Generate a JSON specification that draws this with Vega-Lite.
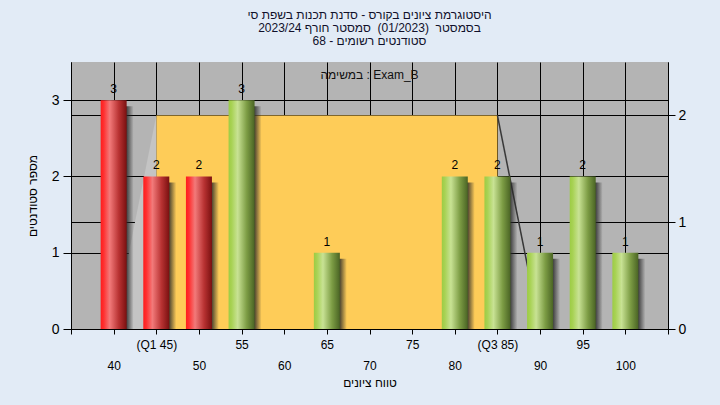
{
  "$schema": "https://vega.github.io/schema/vega-lite/v6.json",
  "width": 597,
  "height": 267,
  "autosize": {"type": "none"},
  "padding": {"left": 71, "top": 62, "right": 52, "bottom": 76},
  "background": "#e2ebf6",
  "config": {
    "font": "Liberation Sans",
    "view": {"fill": "#b4b4b4", "stroke": null},
    "axis": {"gridColor": "#000000", "gridOpacity": 1, "gridWidth": 1, "domainColor": "#000000", "tickColor": "#000000", "labelColor": "#000000", "titleColor": "#000000", "titleFontWeight": "normal", "titleFont": "Liberation Sans", "labelFont": "Liberation Sans"},
    "axisX": {
      "values": [35, 40, 45, 50, 55, 60, 65, 70, 75, 80, 85, 90, 95, 100, 105],
      "grid": true,
      "tickSize": 5,
      "labelFontSize": 12,
      "labelPadding": 5,
      "labelLineHeight": 21,
      "labelOverlap": false,
      "labelFlush": false,
      "labelExpr": "datum.value == 45 ? '(Q1 45)' : datum.value == 85 ? '(Q3 85)' : (datum.value == 35 || datum.value == 105) ? '' : (datum.value % 10 == 0 ? ['', datum.label] : datum.label)",
      "titleFontSize": 12,
      "titlePadding": 6
    }
  },
  "title": {
    "text": ["היסטוגרמת ציונים בקורס - סדנת תכנות בשפת סי", "בסמסטר \u00a0(01/2023) \u00a0סמסטר חורף 2023/24", "סטודנטים רשומים - 68"],
    "fontSize": 12,
    "fontWeight": "normal",
    "color": "#10102a",
    "anchor": "middle",
    "offset": 14,
    "lineHeight": 13
  },
  "datasets": {
    "bars": [
      {"x": 40, "count": 3, "status": "fail"},
      {"x": 45, "count": 2, "status": "fail"},
      {"x": 50, "count": 2, "status": "fail"},
      {"x": 55, "count": 3, "status": "pass"},
      {"x": 65, "count": 1, "status": "pass"},
      {"x": 80, "count": 2, "status": "pass"},
      {"x": 85, "count": 2, "status": "pass"},
      {"x": 90, "count": 1, "status": "pass"},
      {"x": 95, "count": 2, "status": "pass"},
      {"x": 100, "count": 1, "status": "pass"}
    ],
    "box": [{"x": 45, "x2": 85, "y": 2, "y2": 0}],
    "lowWhisker": [{"x": 40, "y": 0}, {"x": 45, "y": 2}],
    "highWhisker": [{"x": 85, "y": 2, "x2": 90, "y2": 0}],
    "exam": [{"label": "במשימה : Exam_B"}]
  },
  "layer": [
    {
      "encoding": {
        "x": {
          "field": "x",
          "type": "quantitative",
          "scale": {"domain": [35, 105], "nice": false, "zero": false, "padding": 0},
          "axis": {"title": "טווח ציונים"}
        },
        "y": {
          "field": "y",
          "type": "quantitative",
          "scale": {"domain": [0, 2.5], "nice": false},
          "axis": {"orient": "right", "values": [0, 1, 2], "grid": true, "tickSize": 7, "labelFontSize": 14, "labelPadding": 3, "title": null}
        }
      },
      "layer": [
        {
          "data": {"name": "box"},
          "mark": {"type": "rect", "color": "#fecc58"},
          "encoding": {"x2": {"field": "x2"}, "y2": {"field": "y2"}}
        },
        {
          "data": {"name": "lowWhisker"},
          "mark": {"type": "area", "color": "#c4c4c4", "opacity": 1},
          "encoding": {}
        },
        {
          "data": {"name": "highWhisker"},
          "mark": {"type": "rule", "color": "#383838", "strokeWidth": 1.5},
          "encoding": {"x2": {"field": "x2"}, "y2": {"field": "y2"}}
        }
      ]
    },
    {
      "data": {"name": "bars"},
      "encoding": {
        "x": {"field": "x", "type": "quantitative", "scale": {"domain": [35, 105], "nice": false, "zero": false, "padding": 0}, "axis": {"title": "טווח ציונים"}},
        "y": {
          "field": "count",
          "type": "quantitative",
          "scale": {"domain": [0, 3.5], "nice": false},
          "axis": {"orient": "left", "values": [0, 1, 2, 3], "grid": true, "tickSize": 8, "labelFontSize": 14, "labelPadding": 4, "title": "מספר סטודנטים", "titleFontSize": 12, "titlePadding": 12}
        }
      },
      "layer": [
        {
          "mark": {
            "type": "bar", "width": 26, "xOffset": 7, "yOffset": 6, "clip": true,
            "color": {"gradient": "linear", "x1": 0, "y1": 0, "x2": 1, "y2": 0, "stops": [
              {"offset": 0, "color": "rgba(40,40,40,0.9)"},
              {"offset": 0.72, "color": "rgba(40,40,40,0.85)"},
              {"offset": 1, "color": "rgba(40,40,40,0)"}
            ]}
          }
        },
        {
          "transform": [{"filter": "datum.status == 'fail'"}],
          "mark": {
            "type": "bar", "width": 26,
            "color": {"gradient": "linear", "x1": 0, "y1": 0, "x2": 1, "y2": 0, "stops": [
              {"offset": 0, "color": "#ff1c1c"},
              {"offset": 0.12, "color": "#ff3030"},
              {"offset": 0.35, "color": "#f27a7a"},
              {"offset": 0.7, "color": "#b83232"},
              {"offset": 1, "color": "#7a1010"}
            ]}
          }
        },
        {
          "transform": [{"filter": "datum.status == 'pass'"}],
          "mark": {
            "type": "bar", "width": 26,
            "color": {"gradient": "linear", "x1": 0, "y1": 0, "x2": 1, "y2": 0, "stops": [
              {"offset": 0, "color": "#9ccc44"},
              {"offset": 0.12, "color": "#a8d254"},
              {"offset": 0.35, "color": "#c8e294"},
              {"offset": 0.7, "color": "#7c9c44"},
              {"offset": 1, "color": "#4a6424"}
            ]}
          }
        },
        {
          "mark": {"type": "text", "baseline": "bottom", "dy": -4, "fontSize": 12, "color": "#000000"},
          "encoding": {"text": {"field": "count", "type": "quantitative"}}
        }
      ]
    },
    {
      "data": {"name": "exam"},
      "mark": {"type": "text", "fontSize": 12, "color": "#101010", "baseline": "middle"},
      "encoding": {
        "x": {"datum": 70, "type": "quantitative", "axis": {"title": "טווח ציונים"}},
        "y": {"datum": 3.33, "type": "quantitative", "scale": {"domain": [0, 3.5], "nice": false}, "axis": null},
        "text": {"field": "label", "type": "nominal"}
      }
    }
  ],
  "resolve": {"scale": {"y": "independent"}}
}
